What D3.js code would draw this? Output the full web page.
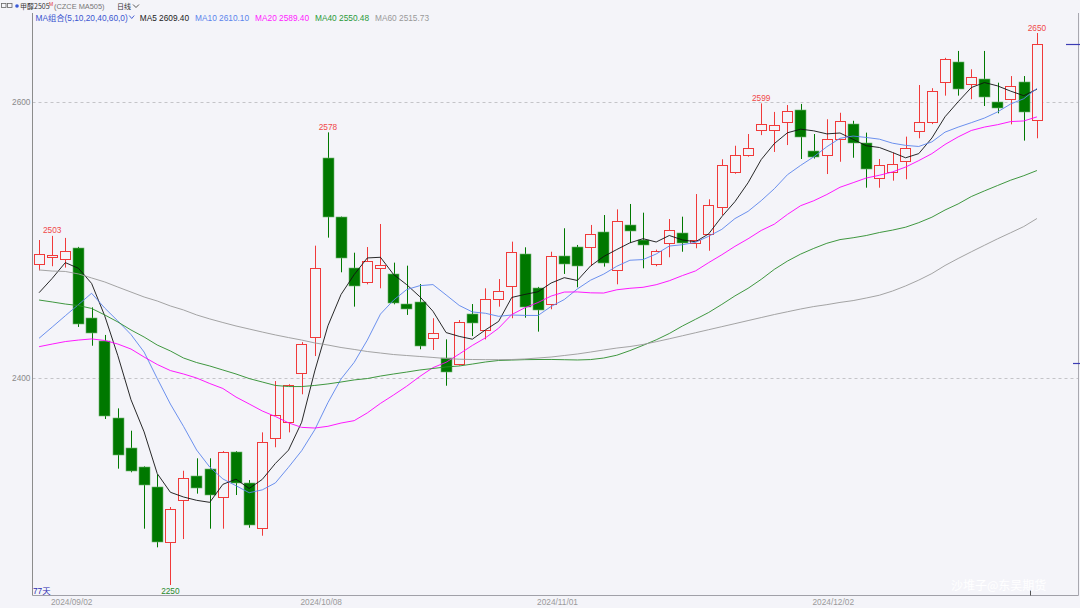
<!DOCTYPE html>
<html><head><meta charset="utf-8">
<script src="https://cdn.jsdelivr.net/npm/d3@7"></script>
<style>
html,body{margin:0;padding:0;background:#f4f4f9;}
svg{display:block;font-family:"Liberation Sans","Noto Sans CJK SC",Arial,sans-serif;}
</style></head><body>
<svg id="c" width="1080" height="608"></svg>
<script>
// ---------- data ----------
const dates = ["2024/08/28","2024/08/29","2024/08/30","2024/09/02","2024/09/03","2024/09/04","2024/09/05","2024/09/06","2024/09/09","2024/09/10",
"2024/09/11","2024/09/12","2024/09/13","2024/09/18","2024/09/19","2024/09/20","2024/09/23","2024/09/24","2024/09/25","2024/09/26",
"2024/09/27","2024/09/30","2024/10/08","2024/10/09","2024/10/10","2024/10/11","2024/10/14","2024/10/15","2024/10/16","2024/10/17",
"2024/10/18","2024/10/21","2024/10/22","2024/10/23","2024/10/24","2024/10/25","2024/10/28","2024/10/29","2024/10/30","2024/10/31",
"2024/11/01","2024/11/04","2024/11/05","2024/11/06","2024/11/07","2024/11/08","2024/11/11","2024/11/12","2024/11/13","2024/11/14",
"2024/11/15","2024/11/18","2024/11/19","2024/11/20","2024/11/21","2024/11/22","2024/11/25","2024/11/26","2024/11/27","2024/11/28",
"2024/11/29","2024/12/02","2024/12/03","2024/12/04","2024/12/05","2024/12/06","2024/12/09","2024/12/10","2024/12/11","2024/12/12",
"2024/12/13","2024/12/16","2024/12/17","2024/12/18","2024/12/19","2024/12/20","2024/12/23"];
const opens = [2482.6,2488,2486,2494.4,2443.7,2426.8,2371,2349,2335.5,2321,
2281.4,2311.6,2329,2333.8,2313.5,2346.6,2323.7,2291.1,2356.3,2367.9,
2403.4,2429.5,2559.6,2516.9,2479.7,2469.3,2479.7,2475.1,2453.6,2455.3,
2428.8,2414.3,2409.9,2446.2,2434.8,2457,2466.9,2489.9,2465,2453.4,
2488.6,2494.7,2494.7,2505.6,2478.3,2510.6,2500,2482.4,2497.6,2504.8,
2497.6,2504.1,2523.7,2549.5,2561.6,2579.7,2580,2585.5,2594.2,2564.7,
2561.6,2573,2584.1,2570.5,2544.7,2549.5,2557.2,2579,2585.3,2614.7,
2628.8,2612.8,2616.4,2599.8,2602,2614.7,2587];
const highs = [2500,2503,2501.5,2495,2451.2,2431.2,2378,2361.8,2336,2330.2,
2306.5,2332.8,2341.8,2341.8,2347,2347,2326,2360.6,2397.8,2395.5,
2426,2495.9,2578,2517,2490.8,2494.9,2511.6,2483.6,2481.4,2468.1,
2443.3,2428,2442,2453.6,2465,2471.7,2498.8,2494.7,2466,2491.5,
2508.5,2496.4,2510.9,2518.1,2522.2,2526.1,2519.8,2493,2515.2,2516.9,
2533.3,2529.5,2558.5,2568.3,2576.8,2599,2592.8,2597.8,2598.6,2576.8,
2587.5,2592.2,2586.4,2577.8,2558.7,2563.3,2574.9,2612.3,2610,2632,
2637,2623.7,2637,2614,2618.8,2618.8,2650];
const lows = [2478,2481,2480,2437,2423.4,2370.3,2334.3,2331.7,2290.8,2277.3,
2250,2283.3,2316.2,2290.8,2290.8,2315.2,2291.5,2285.7,2349.8,2360.6,
2388.2,2415.9,2501.7,2476.6,2451.7,2467.9,2465,2453.4,2445.7,2420.8,
2420.3,2394.4,2409,2430.4,2428,2451.7,2443.3,2443.7,2433.6,2449.8,
2475.4,2465.7,2481.2,2480.7,2467.9,2498,2479.5,2481,2487.5,2491.5,
2494,2492.2,2518.1,2548,2560.4,2576,2563.8,2568.8,2558.7,2559,
2547.8,2556.7,2559.6,2537.9,2537.9,2543,2544,2573.7,2584,2604.6,
2604.6,2602,2597.1,2591.8,2583.8,2572,2573.7];
const closes = [2490,2489,2492,2439.3,2432.4,2372.7,2344.4,2332.6,2322.7,2281.4,
2304.9,2327.3,2320.5,2315.4,2346.6,2323.7,2293.5,2353.4,2373.2,2394.9,
2424.6,2479.5,2516.9,2486.7,2466.9,2485,2481.9,2454.6,2449.8,2423.2,
2432.4,2404.6,2440.8,2439.6,2457,2463,2491.5,2451.7,2449.3,2488.6,
2482.4,2481.4,2504.1,2483.6,2514,2506.7,2496.4,2492,2507.2,2498,
2500,2525.1,2554.3,2561.6,2566.4,2584,2583,2593.5,2574.6,2560.4,
2573,2586.2,2570.5,2551.4,2554.1,2554.9,2566.9,2585.7,2608,2630.9,
2609.4,2618.3,2603.9,2595.9,2611.8,2593,2641.8];

// moving-average values for the days whose window reaches before the first candle
const ma5Lead = [2461.8,2472.2,2483.6,2479.5];
const ma10Lead = [2428.8,2436.9,2445.1,2453.2,2461.4,2450.7,2441.3,2431.5,2418.8];
const ma20Lead = [2422.7,2424.6,2426.4,2427.5,2428.3,2427.2,2424.6,2421,2415.2,2409.8,
2405.4,2402.9,2400,2396,2392.4,2386.2,2381.2,2376.1,2372.1];
const ma40Lead = [2456.5,2455.1,2453.6,2452.5,2450.4,2445.7,2440.6,2434.8,2429.7,2423.9,
2419.6,2414.5,2411.2,2408.7,2405.8,2402.9,2399.6,2397.1,2394.6,2393.8,
2393.8,2394.6,2395.7,2397.1,2398.6,2399.6,2401.4,2402.9,2404.3,2405.8,
2406.9,2408,2408.7,2410.1,2411.6,2412.7,2413,2413.3,2413.4];
const ma60Lead = [2478.3,2477.5,2477.2,2475.4,2472.5,2469.6,2465.9,2462.3,2458.7,2455.8,
2452.2,2449.3,2445.7,2442.8,2440.2,2437.7,2435.5,2433.3,2431.2,2429.3,
2427.5,2425.4,2423.9,2422.1,2420.7,2419.2,2418.1,2417,2416.3,2415.6,
2414.9,2414.1,2413.6,2413.4,2413.3,2413.3,2413.4,2413.8,2414.5,2415.2,
2416.3,2417.4,2418.8,2420.3,2421.7,2422.8,2424.3,2426.3,2428.4,2430.6,
2432.8,2435,2437.2,2439.4,2441.6,2443.8,2446,2448,2450];

const maPeriods = [5,10,20,40,60];
const maNames = ["MA5","MA10","MA20","MA40","MA60"];
const maLegendValues = ["2609.40","2610.10","2589.40","2550.48","2515.73"];
const priceTicks = [2400,2600];
const dateTicks = ["2024/09/02","2024/10/08","2024/11/01","2024/12/02"];
const highMarks = ["2024/08/29","2024/10/08","2024/11/22","2024/12/23"];
const lowMarks = ["2024/09/11"];
const rightMarkers = [2641.8,2410.7];
const dayCount = "77天";

// ---------- styles ----------
const BG = "#f4f4f9", RED = "#f03a3a", GREEN = "#007800";
const maColors = ["#111111","#5b84ec","#ff00ff","#2a8c2a","#9a9a9a"];
const maTextColors = ["#222222","#5b84ec","#ff22ff","#2a9a3a","#999999"];

const svg = d3.select("#c");
svg.append("rect").attr("width",1080).attr("height",608).attr("fill",BG);

const L = 32.5, R = 1078.5, T = 13, B = 595.5;
const x = d3.scaleBand().domain(dates).range([L, 1043.5]).paddingInner(0.2).paddingOuter(0.1);
const y = d3.scaleLinear().domain([2400,2600]).range([378,102]);
const bw = x.bandwidth();
const cx = d => Math.round(x(d) + bw/2) + 0.5;

// grid
const grid = svg.append("g");
priceTicks.forEach(p=>{
  grid.append("line").attr("x1",L).attr("x2",R).attr("y1",Math.round(y(p))+0.5).attr("y2",Math.round(y(p))+0.5)
    .attr("stroke","#c4c4c8").attr("stroke-dasharray","3,3");
});
// price axis (left)
const yAxis = d3.axisLeft(y).tickValues(priceTicks).tickSize(0).tickPadding(2).tickFormat(d3.format("d"));
const ya = svg.append("g").attr("transform",`translate(${L},0)`).call(yAxis);
ya.select(".domain").remove();
ya.selectAll("text").attr("fill","#8a8a8a").attr("font-size","8.3px").attr("font-family","Liberation Sans, sans-serif");

// frame
svg.append("line").attr("x1",L).attr("x2",L).attr("y1",T).attr("y2",B).attr("stroke","#8c8c8c");
svg.append("line").attr("x1",L).attr("x2",R).attr("y1",B).attr("y2",B).attr("stroke","#a0a0a8");
svg.append("line").attr("x1",R).attr("x2",R).attr("y1",T).attr("y2",B).attr("stroke","#a8a8b0");

// date axis labels
const xAxis = d3.axisBottom(x).tickValues(dateTicks).tickSize(0).tickPadding(0);
const xa = svg.append("g").attr("transform",`translate(${-bw/2-1.5},${B+4})`).call(xAxis);
xa.select(".domain").remove();
xa.selectAll("text").attr("fill","#9a9a9a").attr("font-size","8.3px").attr("font-family","Liberation Sans, sans-serif");
// small tick near the end
svg.append("line").attr("x1",Math.round(x(dates[dates.length-1])-1.5)+0.5).attr("x2",Math.round(x(dates[dates.length-1])-1.5)+0.5)
  .attr("y1",B-5).attr("y2",B).attr("stroke","#555");

// ---------- moving averages ----------
const maSeries = maPeriods.map((n,k)=>{
  const lead = [ma5Lead,ma10Lead,ma20Lead,ma40Lead,ma60Lead][k];
  return closes.map((c,i)=> i < n-1 ? lead[i] : d3.mean(closes.slice(i-n+1,i+1)));
});
const line = d3.line().x((v,i)=>x(dates[i])+bw/2).y(v=>y(v));

// candles
const cg = svg.append("g");
dates.forEach((d,i)=>{
  const o=opens[i], h=highs[i], l=lows[i], c=closes[i];
  const up = c >= o;
  const col = up ? RED : GREEN;
  const xc = cx(d);
  const top = y(Math.max(o,c)), bot = y(Math.min(o,c));
  cg.append("line").attr("x1",xc).attr("x2",xc).attr("y1",y(h)).attr("y2",y(l)).attr("stroke",col);
  const bx = Math.round(x(d));
  if (up) {
    cg.append("rect").attr("x",bx+0.5).attr("y",Math.round(top)+0.5).attr("width",10)
      .attr("height",Math.max(1,Math.round(bot)-Math.round(top))).attr("fill",BG).attr("stroke",col);
  } else {
    cg.append("rect").attr("x",bx).attr("y",Math.round(top)).attr("width",11)
      .attr("height",Math.max(1.5,Math.round(bot)-Math.round(top))).attr("fill",col).attr("stroke","#6fb46f").attr("stroke-width",0.6);
  }
});

// MA lines on top
maSeries.forEach((s,k)=>{
  svg.append("path").datum(s).attr("d",line).attr("fill","none").attr("stroke",maColors[k]).attr("stroke-width",0.9);
});

// high / low labels
highMarks.forEach(d=>{
  const i = dates.indexOf(d);
  svg.append("text").attr("x",x(d)+bw/2).attr("y",y(highs[i])-2.5).attr("text-anchor","middle")
    .attr("font-size","8.3px").attr("fill","#f04848").text(d3.format("d")(highs[i]));
});
lowMarks.forEach(d=>{
  const i = dates.indexOf(d);
  svg.append("text").attr("x",x(d)+bw/2).attr("y",y(lows[i])+9).attr("text-anchor","middle")
    .attr("font-size","8.3px").attr("fill","#2a8a2a").text(d3.format("d")(lows[i]));
});

// right edge markers
rightMarkers.forEach((p,k)=>{
  svg.append("line").attr("x1",k===0?1066:1073).attr("x2",1080).attr("y1",Math.round(y(p))+0.5).attr("y2",Math.round(y(p))+0.5)
    .attr("stroke","#3c3cb4").attr("stroke-width",1.2);
});

// day count
svg.append("text").attr("x",L+0.5).attr("y",B-1.5).attr("font-size","8.3px").attr("fill","#2b2bb0").text(dayCount);

// watermark
svg.append("text").attr("x",951).attr("y",590).attr("font-size","12px").attr("fill","#ffffff")
  .attr("font-family","Noto Sans CJK SC, sans-serif").text("沙堆子@东吴期货");

// ---------- header ----------
const hd = svg.append("g");
hd.append("rect").attr("x",1.5).attr("y",3.5).attr("width",4.5).attr("height",4).attr("fill","none").attr("stroke","#666").attr("stroke-width",0.8);
hd.append("rect").attr("x",7.5).attr("y",3.5).attr("width",4.5).attr("height",4).attr("fill","none").attr("stroke","#666").attr("stroke-width",0.8);
hd.append("circle").attr("cx",17).attr("cy",6).attr("r",1.8).attr("fill","#3a5ad8");
hd.append("text").attr("x",20).attr("y",9).attr("fill","#333").attr("font-size","7px")
  .attr("font-family","Noto Sans CJK SC, sans-serif").text("甲醇2505");
hd.append("text").attr("x",49).attr("y",5.5).attr("fill","#e03030").attr("font-size","5px").text("M");
hd.append("text").attr("x",54).attr("y",9).attr("fill","#777").attr("font-size","7.4px").text("(CZCE MA505)");
hd.append("text").attr("x",117).attr("y",9).attr("fill","#333").attr("font-size","7px")
  .attr("font-family","Noto Sans CJK SC, sans-serif").text("日线");
hd.append("path").attr("d","M133,4.5 L136,7.5 L139,4.5").attr("fill","none").attr("stroke","#444").attr("stroke-width",0.9);

// legend row
const lg = svg.append("g").attr("font-size","8.3px");
const t0 = lg.append("text").attr("x",35.5).attr("y",21).attr("fill","#3a55d0").text("MA组合(5,10,20,40,60,0)");
let lx = 35.5 + t0.node().getComputedTextLength();
lg.append("path").attr("d",`M${lx+1.5},15.5 L${lx+4},18.5 L${lx+6.5},15.5`).attr("fill","none").attr("stroke","#3a55d0").attr("stroke-width",0.9);
lx += 12;
maNames.forEach((nm,k)=>{
  const t = lg.append("text").attr("x",lx).attr("y",21).attr("fill",maTextColors[k]).text(nm+" "+maLegendValues[k]);
  lx += t.node().getComputedTextLength() + 6;
});
</script>
</body></html>
